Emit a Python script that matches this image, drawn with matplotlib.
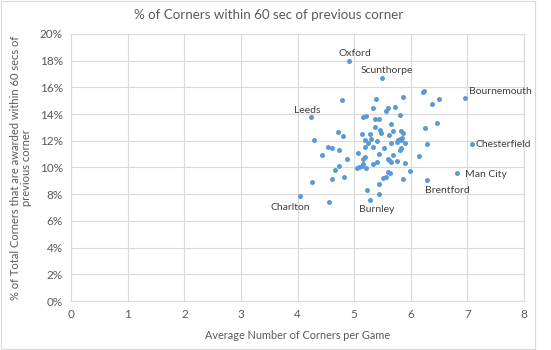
import matplotlib
matplotlib.use('Agg')
import matplotlib.pyplot as plt
from matplotlib.patches import Rectangle
from matplotlib.ticker import PercentFormatter

# average corners per game vs % of corners within 60 s of the previous one
corners_per_game = [
    4.91, 5.49, 4.78, 5.38, 4.23, 5.33, 5.59, 5.57, 5.72, 5.80,
    5.15, 5.21, 5.37, 5.44, 5.65, 5.37, 5.46, 5.47, 5.69, 5.83,
    5.86, 4.71, 4.81, 5.14, 5.27, 5.61, 4.29, 5.19, 5.25, 5.30,
    5.40, 5.65, 5.77, 5.80, 5.83, 5.84, 5.90, 5.75, 4.54, 4.61,
    4.73, 5.19, 5.33, 5.53, 5.83, 5.80, 4.43, 5.06, 5.43, 5.68,
    4.87, 5.19, 5.15, 5.59, 5.61, 5.75, 5.40, 5.33, 5.15, 5.14,
    5.08, 5.05, 5.21, 5.65, 5.90, 4.73, 4.66, 5.59, 5.64, 5.98,
    4.82, 4.61, 4.25, 5.51, 5.56, 5.44, 5.23, 5.44, 5.27, 4.05,
    4.55, 6.21, 6.24, 5.87, 6.49, 6.37, 6.96, 6.47, 6.25, 6.28,
    7.08, 6.15, 6.81, 5.86, 6.28,
]
pct_within_60s = [
    17.95, 16.68, 15.06, 15.13, 13.76, 14.42, 14.43, 14.25, 14.54, 13.95,
    13.81, 13.87, 13.62, 13.63, 13.26, 13.01, 12.77, 12.56, 12.76, 12.70,
    12.56, 12.64, 12.37, 12.49, 12.51, 12.43, 12.08, 12.06, 11.81, 12.13,
    11.95, 11.86, 12.06, 12.13, 12.04, 12.23, 11.80, 11.93, 11.50, 11.44,
    11.31, 11.51, 11.55, 11.46, 11.48, 11.31, 10.95, 11.11, 11.01, 10.94,
    10.61, 10.76, 10.61, 10.64, 10.56, 10.52, 10.43, 10.26, 10.26, 10.13,
    10.06, 9.94, 9.94, 10.43, 10.34, 10.11, 9.78, 9.69, 9.61, 9.70,
    9.31, 9.14, 8.90, 9.19, 9.31, 8.76, 8.31, 7.98, 7.53, 7.85,
    7.44, 15.66, 15.75, 15.30, 15.11, 14.73, 15.23, 13.30, 12.97, 11.74,
    11.74, 10.86, 9.55, 9.15, 9.03,
]

# named clubs: (name, point index, pixel offset, horizontal alignment)
labels = [
    ('Oxford', 0, (6, 8), 'center'),
    ('Scunthorpe', 1, (-21, 8), 'left'),
    ('Leeds', 4, (-3, 7), 'center'),
    ('Charlton', 79, (-10, -11), 'center'),
    ('Burnley', 78, (7, -9), 'center'),
    ('Bournemouth', 86, (4, 6), 'left'),
    ('Chesterfield', 90, (4, 0), 'left'),
    ('Man City', 92, (8, -1), 'left'),
    ('Brentford', 94, (-2, -10), 'left'),
]

GRID = '#d9d9d9'
TXT = '#595959'
plt.rcParams['font.family'] = ['Lato', 'DejaVu Sans']

fig = plt.figure(figsize=(5.51, 3.5), dpi=100)
ax = fig.add_axes([0.1294, 0.14, 0.8216, 0.763])

ax.scatter(corners_per_game, pct_within_60s, s=13, color='#5b9bd5',
           linewidths=0, zorder=3)

for name, i, (dx, dy), ha in labels:
    ax.annotate(name, (corners_per_game[i], pct_within_60s[i]),
                xytext=(dx, dy), textcoords='offset pixels',
                ha=ha, va='center', fontsize=7.5, color='#404040')

ax.set_xlim(0, 8)
ax.set_ylim(0, 20)
ax.set_xticks(range(0, 9))
ax.set_yticks(range(0, 21, 2))
ax.yaxis.set_major_formatter(PercentFormatter(decimals=0))
ax.grid(True, color=GRID, linewidth=0.8)
ax.set_axisbelow(True)
for sp in ax.spines.values():
    sp.set_color(GRID)
    sp.set_linewidth(0.8)
ax.tick_params(length=0, labelsize=8.5, colors=TXT, pad=6)

ax.set_xlabel('Average Number of Corners per Game', fontsize=7.8,
              color=TXT, labelpad=7)
ax.set_ylabel('% of Total Corners that are awarded within 60 secs of\n'
              'previous corner', fontsize=8, color=TXT, labelpad=6,
              linespacing=1.0)
fig.text(0.488, 0.958, '% of Corners within 60 sec of previous corner',
         ha='center', va='center', fontsize=9.6, color=TXT)

# thin chart border
fig.patches.append(Rectangle((0.002, 0.004), 0.969, 0.992,
                             transform=fig.transFigure, fill=False,
                             edgecolor=GRID, linewidth=0.8))

fig.savefig('out.png', dpi=100)
